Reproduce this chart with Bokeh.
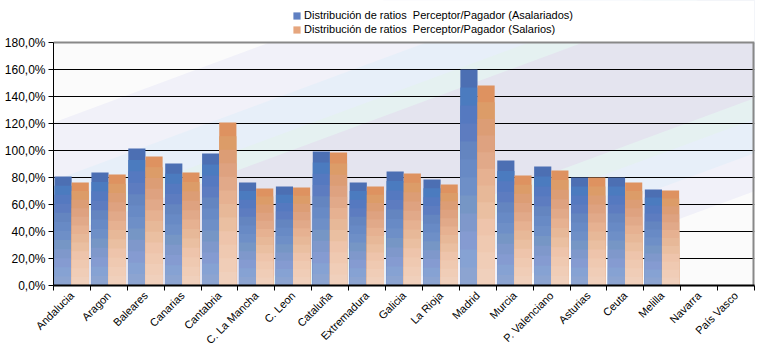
import math
from bokeh.plotting import figure
from bokeh.models import Range1d, FixedTicker, Legend, LegendItem
from bokeh.embed import file_html
from bokeh.resources import INLINE

categories = ["Andalucia", "Aragon", "Baleares", "Canarias", "Cantabria", "C. La Mancha",
              "C. Leon", "Cataluña", "Extremadura", "Galicia", "La Rioja", "Madrid", "Murcia",
              "P. Valenciano", "Asturias", "Ceuta", "Melilla", "Navarra", "País Vasco"]
asalariados = [80.7, 83.7, 101.5, 90.4, 97.8, 76.3, 73.3, 99.3, 76.3, 84.4, 78.5, 160.0,
               92.6, 88.1, 80.0, 80.0, 71.1, None, None]
salarios = [76.3, 82.2, 95.6, 83.7, 120.7, 71.9, 72.6, 98.5, 73.3, 83.0, 74.8, 148.1,
            81.5, 85.2, 80.0, 76.3, 70.4, None, None]
series_names = ["Distribución de ratios  Perceptor/Pagador (Asalariados)",
                "Distribución de ratios  Perceptor/Pagador (Salarios)"]
y_ticks = [0, 20, 40, 60, 80, 100, 120, 140, 160, 180]
y_tick_labels = ["0,0%", "20,0%", "40,0%", "60,0%", "80,0%", "100,0%", "120,0%",
                 "140,0%", "160,0%", "180,0%"]

FONT = "Liberation Sans"
n = len(categories)
YMAX = 180

# layout (px)
FIG_W, FIG_H = 758, 355
B_LEFT, B_RIGHT, B_BOTTOM = 53, 4, 70
CHART_TOP = 42                      # px from top where 180 % sits
FRAME_H = FIG_H - B_BOTTOM          # frame spans from top of figure
YTOP = YMAX * FRAME_H / (FRAME_H - CHART_TOP)

p = figure(width=FIG_W, height=FIG_H, output_backend="svg", toolbar_location=None,
           x_range=Range1d(0, n), y_range=Range1d(0, YTOP),
           min_border_left=B_LEFT, min_border_right=B_RIGHT, min_border_top=0,
           min_border_bottom=B_BOTTOM)
p.background_fill_color = "white"
p.border_fill_color = "white"
p.outline_line_color = None

# chart area background
p.quad(left=0, right=n, bottom=0, top=YMAX, fill_color="#fbfbfb", line_color=None, level="image")

# ---- diagonal background bands (decoration) ----
W, H = 701.0, 243.0   # approx chart area size in px
s = 0.37              # slope in px
bands = [(-165, 163, "#f1f1f9"), (-127, 105, "#e7eff9"), (-93, 67, "#e5f1f1"), (-72, 47, "#e4e4ef")]
x0p, x1p = -200.0, W + 200.0
bxs, bys, bcs = [], [], []
for la, lb, col in bands:
    pts = [(x0p, la + s * x0p), (x1p, la + s * x1p), (x1p, lb + s * x1p), (x0p, lb + s * x0p)]
    bxs.append([px / W * n for px, _ in pts])
    bys.append([py / H * YMAX for _, py in pts])
    bcs.append(col)
p.patches(bxs, bys, fill_color=bcs, line_color=None, level="image")
# white cover above the chart area
p.quad(left=-1, right=n + 1, bottom=YMAX, top=YTOP + 10, fill_color="white", line_color=None,
       level="underlay")


# ---- gradient bars ----
def h2r(h):
    h = h.lstrip("#")
    return tuple(int(h[i:i + 2], 16) for i in (0, 2, 4))


def interp(stops, t):
    for (t0, c0), (t1, c1) in zip(stops[:-1], stops[1:]):
        if t0 <= t <= t1:
            f = (t - t0) / (t1 - t0) if t1 > t0 else 0
            a, b = h2r(c0), h2r(c1)
            return "#%02x%02x%02x" % tuple(int(round(a[i] + (b[i] - a[i]) * f)) for i in range(3))
    return stops[-1][1]


blue_stops = [(0.0, "#90a4cf"), (0.1, "#86a4d4"), (0.25, "#8498d0"), (0.35, "#7898c4"),
              (0.5, "#6a8cc8"), (0.62, "#6486c0"), (0.75, "#5a78c0"), (0.88, "#4a7bbf"),
              (0.93, "#4c72b6"), (1.0, "#4d6aae")]
orange_stops = [(0.0, "#f0d2be"), (0.15, "#f0ccb6"), (0.3, "#eec4aa"), (0.42, "#e8bc9c"),
                (0.55, "#e6b090"), (0.68, "#dea484"), (0.8, "#dc9c74"), (0.9, "#dc9c64"),
                (1.0, "#e08a5e")]

NB = 12
BW = 0.465
for vals, off, stops in [(asalariados, 0.26, blue_stops), (salarios, 0.725, orange_stops)]:
    xs, tops, cols = [], [], []
    for k in range(NB - 1, -1, -1):
        for i, v in enumerate(vals):
            if v is None:
                continue
            xs.append(i + off)
            tops.append(v * (k + 1) / NB)
            cols.append(interp(stops, (k + 0.5) / NB))
    p.vbar(x=xs, top=tops, bottom=0, width=BW, fill_color=cols, line_color=None)

# chart border (top and right, grey)
p.line(x=[0, n], y=[YMAX, YMAX], line_color="#888888", line_width=2)
p.line(x=[n, n], y=[0, YMAX], line_color="#888888", line_width=4)

# legend proxies (single point placed outside the visible range)
r1 = p.rect(x=[-10], y=[-10], width=1, height=1, fill_color="#5f80c2", line_color=None)
r2 = p.rect(x=[-10], y=[-10], width=1, height=1, fill_color="#e6a67e", line_color=None)
legend = Legend(items=[LegendItem(label=series_names[0], renderers=[r1]),
                       LegendItem(label=series_names[1], renderers=[r2])],
                location=(239, FRAME_H - 36), padding=0, margin=0, spacing=0,
                glyph_width=9, glyph_height=9, label_height=14, label_standoff=3,
                border_line_color=None, background_fill_alpha=0,
                label_text_font=FONT, label_text_font_size="11px", label_text_color="black")
p.add_layout(legend)

# ---- axes ----
centers = [i + 0.5 for i in range(n)]
p.xaxis.ticker = FixedTicker(ticks=centers, minor_ticks=list(range(n + 1)))
p.xaxis.major_label_overrides = {c: name for c, name in zip(centers, categories)}
p.xaxis.major_tick_line_color = None
p.xaxis.major_tick_out = 0
p.xaxis.major_tick_in = 0
p.xaxis.minor_tick_out = 5
p.xaxis.minor_tick_in = 0
p.xaxis.minor_tick_line_color = "black"
p.xaxis.major_label_orientation = math.pi / 4
p.xaxis.major_label_standoff = 3
p.xaxis.axis_line_color = "black"
p.xaxis.axis_line_width = 2
p.xaxis.major_label_text_font = FONT
p.xaxis.major_label_text_font_size = "11px"
p.xaxis.major_label_text_color = "black"

p.yaxis.bounds = (0, YMAX)
p.yaxis.ticker = FixedTicker(ticks=y_ticks)
p.yaxis.major_label_overrides = dict(zip(y_ticks, y_tick_labels))
p.yaxis.minor_tick_line_color = None
p.yaxis.major_tick_out = 5
p.yaxis.major_tick_in = 0
p.yaxis.major_tick_line_color = "black"
p.yaxis.major_label_standoff = 3
p.yaxis.axis_line_color = "black"
p.yaxis.major_label_text_font = FONT
p.yaxis.major_label_text_font_size = "12px"
p.yaxis.major_label_text_color = "black"

p.xgrid.visible = False
p.ygrid.ticker = FixedTicker(ticks=y_ticks[1:-1])
p.ygrid.grid_line_color = "black"
p.ygrid.grid_line_width = 1

open("out.html", "w").write(file_html(p, INLINE))
